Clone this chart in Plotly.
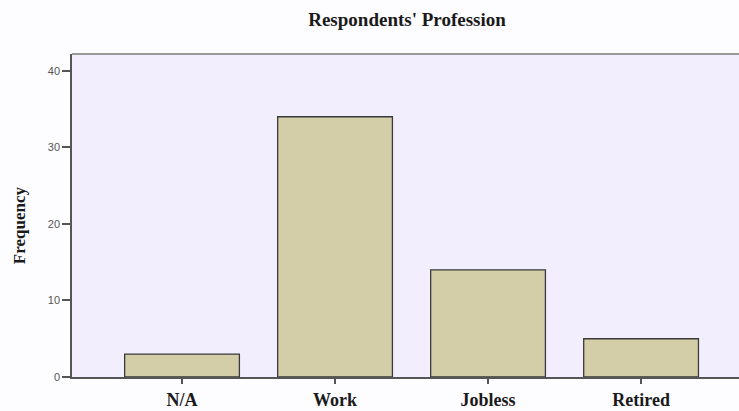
import plotly.graph_objects as go

categories = ["N/A", "Work", "Jobless", "Retired"]
frequency = [3, 34, 14, 5]
y_ticks = [0, 10, 20, 30, 40]

serif = "Liberation Serif, Times New Roman, serif"

W, H = 739, 411
fig = go.Figure(go.Bar(
    x=categories, y=frequency, width=0.75,
    marker=dict(color="#D3CEA8", line=dict(color="#3a3a3a", width=1.3)),
))

fig.update_layout(
    width=W, height=H,
    margin=dict(l=72, r=0, t=54, b=34, autoexpand=False),
    paper_bgcolor="#FDFCFF", plot_bgcolor="#F2EEFD",
    showlegend=False,
    title=dict(text="<b>Respondents' Profession</b>", x=407/W, xanchor="center",
               xref="container", y=1 - 19/H, yref="container", yanchor="middle",
               font=dict(family=serif, size=19, color="#1a1a1a")),
)
fig.update_xaxes(
    type="category", range=[-0.719, 3.64], automargin=False,
    showline=True, linecolor="#555", linewidth=1.5, mirror=False,
    ticks="outside", ticklen=5, tickcolor="#555", tickwidth=1.5,
    showgrid=False,
    tickfont=dict(family=serif, size=18, color="#1a1a1a"),
    ticklabelstandoff=1,
    tickprefix="<b>", ticksuffix="</b>",
)
fig.update_yaxes(
    range=[0, 42.2], tickvals=y_ticks, automargin=False,
    showline=True, linecolor="#555", linewidth=1.5,
    ticks="outside", ticklen=8, tickcolor="#555", tickwidth=1.5,
    showgrid=False, zeroline=False,
    tickprefix="<b>", ticksuffix="</b>",
    tickfont=dict(family="Liberation Sans, Arial, sans-serif", size=11, color="#555"),
)
fig.add_annotation(text="<b>Frequency</b>", textangle=-90, xref="paper", yref="paper",
                   x=0, y=0.47, xanchor="center", yanchor="middle", xshift=-53,
                   showarrow=False, font=dict(family=serif, size=17, color="#1a1a1a"))
fig.add_shape(type="line", xref="paper", yref="paper", x0=0, x1=1, y0=1, y1=1,
              line=dict(color="#999", width=2))

fig.write_html("out.html", config={"displayModeBar": False},
               post_script="document.body.style.margin='0';document.body.style.overflow='hidden';")
